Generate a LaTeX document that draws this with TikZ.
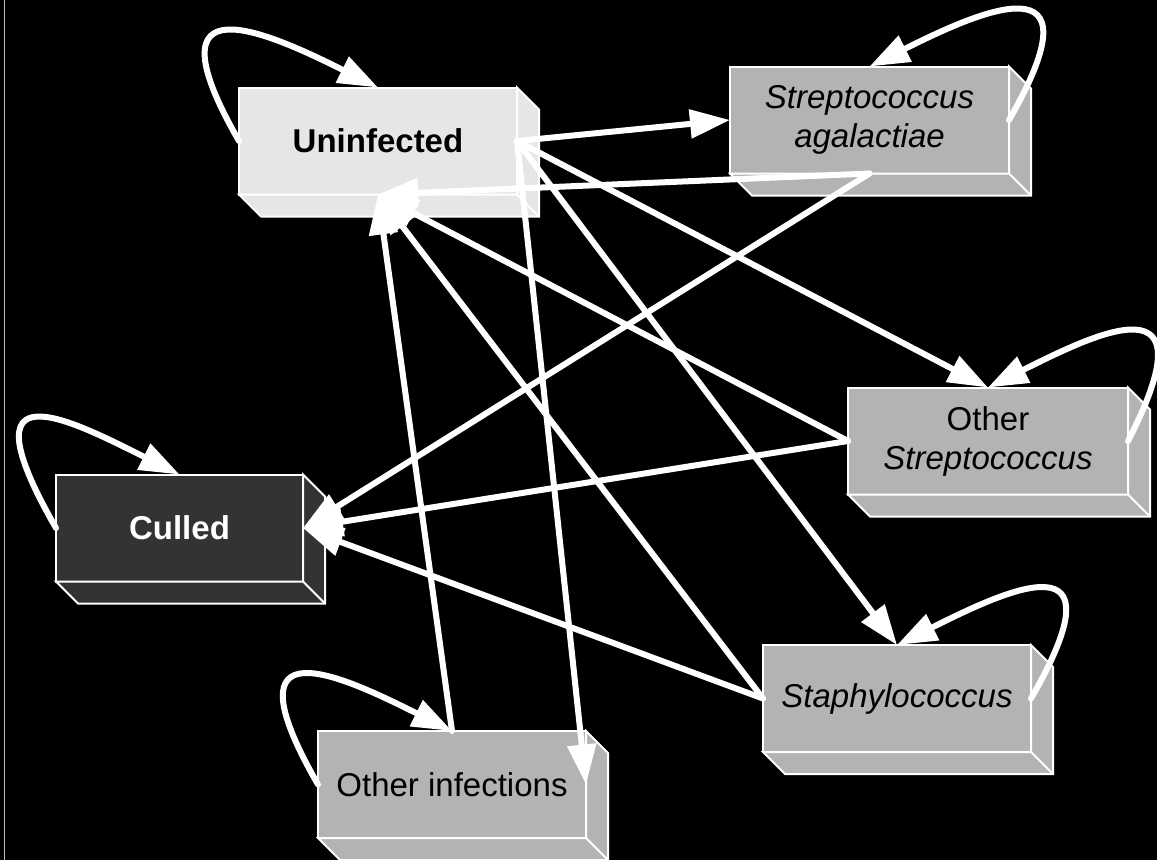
\documentclass[tikz,border=0pt]{standalone}
\usepackage{fontspec}
\setmainfont{Liberation Sans}
\usetikzlibrary{arrows.meta}
\definecolor{lightface}{HTML}{E6E6E6}
\definecolor{midface}{HTML}{B3B3B3}
\definecolor{darkface}{HTML}{333333}
\definecolor{edgeline}{HTML}{BDBDBD}
\newcommand\boxdepth[2]{%
  \filldraw[draw=white, line width=2pt, fill=#2, line join=miter]
    (#1.north east) -- ([shift={(22,22)}]#1.north east)
    -- ([shift={(22,22)}]#1.south east) -- ([shift={(22,22)}]#1.south west)
    -- (#1.south west) -- (#1.south east) -- cycle;
  \draw[white, line width=2pt] (#1.south east) -- ([shift={(22,22)}]#1.south east);}
\begin{document}
\begin{tikzpicture}[x=1pt,y=-1pt,
  box/.style={draw=white, line width=2pt, minimum height=107pt, inner sep=0pt,
    outer sep=0pt, align=center, font=\fontsize{33}{39}\selectfont},
  conn/.style={draw=white, line width=6pt, line cap=round,
    -{Triangle[length=40pt,width=28pt]}},
  leftloop/.style={conn},
  rightloop/.style={conn}]
\fill[black] (0,0) rectangle (1157,860);
\useasboundingbox (0,0) rectangle (1157,860);
\draw[edgeline, line width=1pt] (4,0) -- (4,860);

% boxes
\node[box, fill=lightface, minimum width=278pt, font=\fontsize{33}{39}\selectfont\bfseries] (unin) at (378,141) {Uninfected};
\boxdepth{unin}{lightface}
\node[box, fill=midface, minimum width=279pt, font=\fontsize{33}{39}\selectfont\itshape] (strep) at (869.5,120) {Streptococcus\\agalactiae};
\boxdepth{strep}{midface}
\node[box, fill=midface, minimum width=280pt] (ostrep) at (988,441) {Other\\\textit{Streptococcus}};
\boxdepth{ostrep}{midface}
\node[box, fill=midface, minimum width=268pt, font=\fontsize{33}{39}\selectfont\itshape] (staph) at (897,698.5) {Staphylococcus};
\boxdepth{staph}{midface}
\node[box, fill=midface, minimum width=268pt] (oinf) at (452,784.5) {Other infections};
\boxdepth{oinf}{midface}
\node[box, fill=darkface, text=white, minimum width=247pt, font=\fontsize{33}{39}\selectfont\bfseries] (culled) at (179.5,528) {Culled};
\boxdepth{culled}{darkface}

% self loops
\draw[leftloop] (unin.west) .. controls +(-95,-165) and +(-110,-55) .. (unin.north);
\draw[leftloop] (culled.west) .. controls +(-95,-165) and +(-110,-55) .. (culled.north);
\draw[leftloop] (oinf.west) .. controls +(-95,-165) and +(-110,-55) .. (oinf.north);
\draw[rightloop] (strep.east) .. controls +(95,-165) and +(110,-55) .. (strep.north);
\draw[rightloop] (ostrep.east) .. controls +(85,-165) and +(110,-55) .. (ostrep.north);
\draw[rightloop] (staph.east) .. controls +(95,-165) and +(110,-55) .. (staph.north);

% transitions
\draw[conn] (unin.east) -- (strep.west);
\draw[conn] (strep.south) -- (unin.south);
\draw[conn] (unin.east) -- (ostrep.north);
\draw[conn] (unin.east) -- (staph.north);
\draw[conn] (unin.east) -- (oinf.east);
\draw[conn] (strep.south) -- (culled.east);
\draw[conn] (ostrep.west) -- (culled.east);
\draw[conn] (staph.west) -- (culled.east);
\draw[conn] (ostrep.west) -- (unin.south);
\draw[conn] (staph.west) -- (unin.south);
\draw[conn] (oinf.north) -- (unin.south);
\end{tikzpicture}
\end{document}
